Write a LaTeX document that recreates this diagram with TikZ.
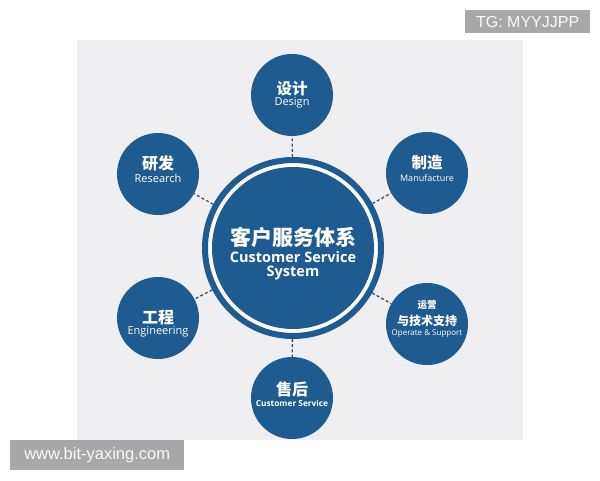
\documentclass[tikz,border=0pt]{standalone}
\usepackage{fontspec}
\setmainfont{Open Sans}
\newfontfamily\cjk{Noto Sans CJK SC}
\newfontfamily\wm{Liberation Sans}
\definecolor{dblue}{RGB}{30,91,144}
\definecolor{panel}{RGB}{239,239,241}
\definecolor{wmgray}{RGB}{168,168,168}
\definecolor{linkgray}{RGB}{75,80,85}
\begin{document}
\begin{tikzpicture}[x=1pt,y=-1pt,
  sat/.style={circle, fill=dblue, minimum size=82pt, inner sep=0pt},
  link/.style={draw=linkgray, line width=1.3pt, dash pattern=on 3pt off 2.2pt},
  zh/.style={text=white, inner sep=0pt, font=\cjk\bfseries\fontsize{#1}{#1}\selectfont},
  en/.style={text=white, inner sep=0pt, font=\fontsize{#1}{#1}\selectfont},
  enb/.style={text=white, inner sep=0pt, font=\bfseries\fontsize{#1}{#1}\selectfont},
  wmbox/.style={fill=wmgray, text=white!95!gray, inner sep=0pt, font=\wm\fontsize{#1}{#1}\selectfont}]
\useasboundingbox (0,0) rectangle (600,480);
\fill[panel] (77,40) rectangle (523,440);
% center
\node[circle, draw=dblue, line width=6pt, fill=white, minimum size=176pt, inner sep=0pt] (c) at (293,248) {};
\node[circle, fill=dblue, minimum size=162pt, inner sep=0pt] (ci) at (c) {};
% satellites
\node[sat] (d) at (292,95) {};
\node[sat] (m) at (427,173) {};
\node[sat] (o) at (427,324) {};
\node[sat] (s) at (292,398) {};
\node[sat] (r) at (158,174) {};
\node[sat] (e) at (158,318) {};
% links
\foreach \t in {d,m,o,s,r,e} \draw[link] (c) -- (\t);
% center text
\node[zh=21] (ct1) at (293,237) {客户服务体系};
\node[enb=14.5] (ct2) at (293,257) {Customer Service};
\node[enb=14.5] (ct3) at (293,273) {System};
% design
\node[zh=15.5] (dt1) at (292,89) {设计};
\node[en=11] (dt2) at (292,103) {Design};
% manufacture
\node[zh=15.5] (mt1) at (427,163) {制造};
\node[en=9] (mt2) at (427,178) {Manufacture};
% operate
\node[zh=9.5] (ot1) at (427,305) {运营};
\node[zh=12] (ot2) at (427,321) {与技术支持};
\node[en=8] (ot3) at (427,334) {Operate \& Support};
% after-sales
\node[zh=16] (st1) at (292,389) {售后};
\node[enb=8.3] (st2) at (292,403) {Customer Service};
% research
\node[zh=16] (rt1) at (158,163) {研发};
\node[en=11] (rt2) at (158,178) {Research};
% engineering
\node[zh=16] (et1) at (158,317) {工程};
\node[en=11] (et2) at (158,332) {Engineering};
% watermarks
\node[wmbox=16, minimum width=125pt, minimum height=23pt, anchor=north west] (w1) at (465,10) {TG: MYYJJPP};
\node[wmbox=16.5, minimum width=174pt, minimum height=30pt, anchor=north west] (w2) at (10,440) {www.bit-yaxing.com};
\end{tikzpicture}
\end{document}
